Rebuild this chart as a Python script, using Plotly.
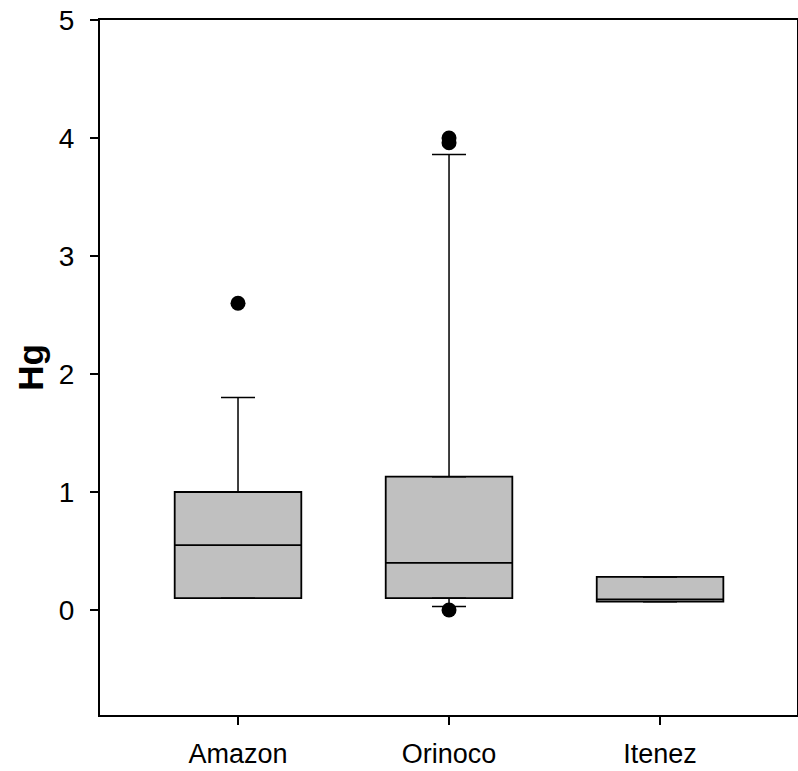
import plotly.graph_objects as go

categories = ["Amazon", "Orinoco", "Itenez"]
q1 = [0.10, 0.10, 0.07]
median = [0.55, 0.40, 0.09]
q3 = [1.00, 1.13, 0.28]
lower_whisker = [0.10, 0.03, 0.07]
upper_whisker = [1.80, 3.86, 0.28]
outlier_x = ["Amazon", "Orinoco", "Orinoco", "Orinoco"]
outlier_y = [2.60, 4.00, 3.96, 0.00]
y_ticks = [0, 1, 2, 3, 4, 5]

FONT = "Liberation Sans, Arial, sans-serif"

fig = go.Figure()

# upper whiskers with caps
fig.add_trace(go.Scatter(
    x=categories, y=q3, mode="markers",
    marker=dict(size=1, opacity=0),
    error_y=dict(type="data", symmetric=False,
                 array=[u - q for u, q in zip(upper_whisker, q3)],
                 arrayminus=[0] * len(q3),
                 color="black", thickness=1.5, width=17),
    showlegend=False, hoverinfo="skip"))
# lower whiskers with caps
fig.add_trace(go.Scatter(
    x=categories, y=q1, mode="markers",
    marker=dict(size=1, opacity=0),
    error_y=dict(type="data", symmetric=False,
                 array=[0] * len(q1),
                 arrayminus=[q - l for q, l in zip(q1, lower_whisker)],
                 color="black", thickness=1.5, width=17),
    showlegend=False, hoverinfo="skip"))

fig.add_trace(go.Box(
    x=categories, q1=q1, median=median, q3=q3,
    lowerfence=q1, upperfence=q3,
    fillcolor="#c0c0c0", line=dict(color="black", width=1.8),
    width=0.6, boxpoints=False, showlegend=False))

fig.add_trace(go.Scatter(
    x=outlier_x, y=outlier_y, mode="markers",
    marker=dict(color="black", size=15, line=dict(width=0)),
    showlegend=False))

fig.update_layout(
    width=798, height=771,
    margin=dict(l=100, r=1, t=20, b=56),
    plot_bgcolor="white", paper_bgcolor="white",
    font=dict(family=FONT, size=28, color="black"),
)
fig.update_xaxes(
    type="category", categoryorder="array", categoryarray=categories,
    range=[-0.654, 2.649], automargin=False,
    showline=True, linecolor="black", linewidth=2, mirror=True,
    ticks="outside", ticklen=8, tickwidth=1.5, tickcolor="black",
    ticklabelstandoff=6,
    showgrid=False, zeroline=False,
    tickfont=dict(family=FONT, size=27, color="black"))
fig.update_yaxes(
    range=[-0.89, 5], tickvals=y_ticks, automargin=False,
    showline=True, linecolor="black", linewidth=2, mirror=True,
    ticks="outside", ticklen=8, tickwidth=1.5, tickcolor="black",
    ticklabelstandoff=10,
    showgrid=False, zeroline=False,
    tickfont=dict(family=FONT, size=28, color="black"),
    title=dict(text="<b>Hg</b>", font=dict(family=FONT, size=35, color="black"), standoff=5))

fig.write_html("out.html")
